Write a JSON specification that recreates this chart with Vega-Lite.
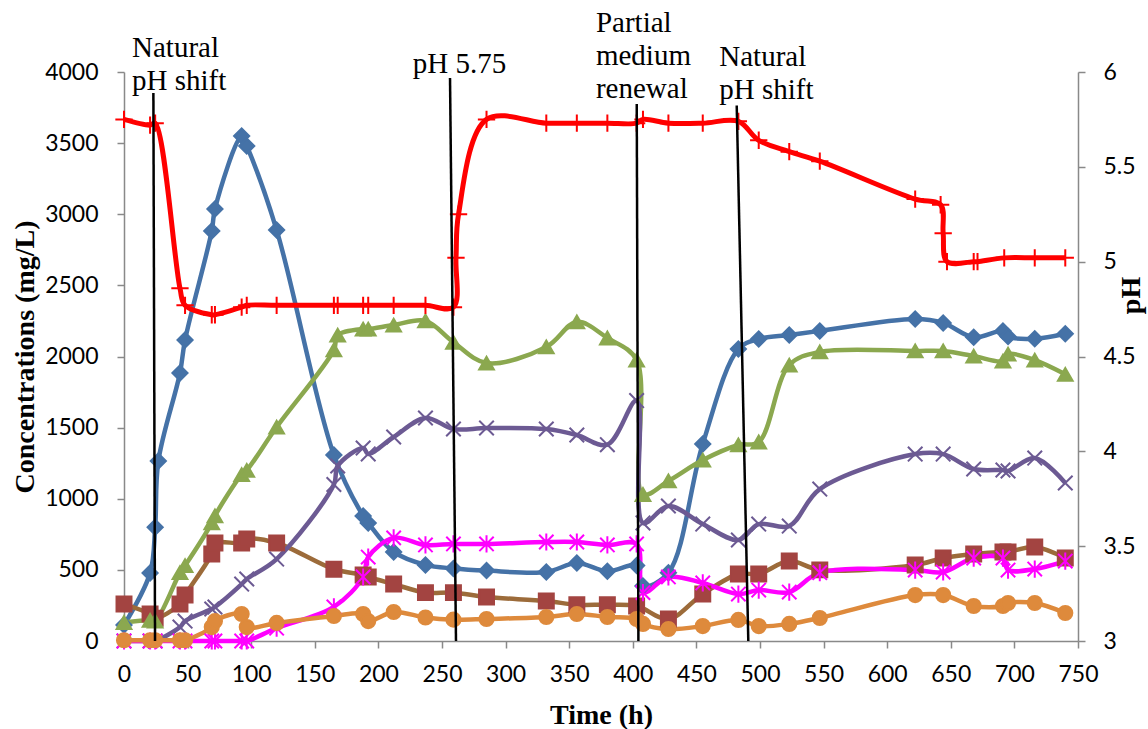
{
  "$schema": "https://vega.github.io/schema/vega-lite/v6.json",
  "width": 954,
  "height": 569,
  "autosize": "none",
  "padding": {"left": 124, "top": 72, "right": 70, "bottom": 88},
  "background": "white",
  "config": {
    "view": {"stroke": null},
    "axis": {
      "grid": false,
      "domainColor": "#898989",
      "tickColor": "#898989",
      "domainWidth": 1.5,
      "tickWidth": 1.5,
      "labelFont": "Lato",
      "labelFontSize": 23,
      "labelColor": "#000000",
      "labelOverlap": false,
      "titleFont": "Liberation Serif",
      "titleFontSize": 28,
      "titleFontWeight": "bold",
      "titleColor": "#000000"
    }
  },
  "datasets": {
    "conc": [
      {"s":"S1","t":0,"v":112},{"s":"S1","t":20.5,"v":478},{"s":"S1","t":24.5,"v":800},{"s":"S1","t":27,"v":1265},{"s":"S1","t":44,"v":1884},{"s":"S1","t":48,"v":2116},{"s":"S1","t":69,"v":2882},{"s":"S1","t":71.5,"v":3037},{"s":"S1","t":92.5,"v":3550},{"s":"S1","t":96.5,"v":3480},{"s":"S1","t":120,"v":2889},{"s":"S1","t":165,"v":1308},{"s":"S1","t":188,"v":879},{"s":"S1","t":192,"v":830},{"s":"S1","t":212,"v":626},{"s":"S1","t":237,"v":535},{"s":"S1","t":259,"v":510},{"s":"S1","t":285,"v":495},{"s":"S1","t":332,"v":485},{"s":"S1","t":356,"v":548},{"s":"S1","t":380,"v":490},{"s":"S1","t":403,"v":530},{"s":"S1","t":408,"v":387},{"s":"S1","t":428,"v":480},{"s":"S1","t":455,"v":1385},{"s":"S1","t":483,"v":2053},{"s":"S1","t":499,"v":2123},{"s":"S1","t":523,"v":2151},{"s":"S1","t":547,"v":2180},{"s":"S1","t":622,"v":2264},{"s":"S1","t":644,"v":2236},{"s":"S1","t":668,"v":2135},{"s":"S1","t":691,"v":2179},{"s":"S1","t":695,"v":2140},{"s":"S1","t":716,"v":2125},{"s":"S1","t":740,"v":2160},
      {"s":"S2","t":0,"v":260},{"s":"S2","t":20.5,"v":190},{"s":"S2","t":24.5,"v":160},{"s":"S2","t":44,"v":260},{"s":"S2","t":48,"v":323},{"s":"S2","t":69,"v":612},{"s":"S2","t":71.5,"v":689},{"s":"S2","t":92.5,"v":689},{"s":"S2","t":96.5,"v":717},{"s":"S2","t":120,"v":689},{"s":"S2","t":165,"v":505},{"s":"S2","t":188,"v":464},{"s":"S2","t":192,"v":450},{"s":"S2","t":212,"v":400},{"s":"S2","t":237,"v":340},{"s":"S2","t":259,"v":340},{"s":"S2","t":285,"v":309},{"s":"S2","t":332,"v":281},{"s":"S2","t":356,"v":255},{"s":"S2","t":380,"v":255},{"s":"S2","t":403,"v":246},{"s":"S2","t":428,"v":155},{"s":"S2","t":455,"v":330},{"s":"S2","t":483,"v":471},{"s":"S2","t":499,"v":471},{"s":"S2","t":523,"v":562},{"s":"S2","t":547,"v":500},{"s":"S2","t":622,"v":534},{"s":"S2","t":644,"v":583},{"s":"S2","t":668,"v":612},{"s":"S2","t":691,"v":626},{"s":"S2","t":695,"v":626},{"s":"S2","t":716,"v":661},{"s":"S2","t":740,"v":583},
      {"s":"S3","t":0,"v":130},{"s":"S3","t":20.5,"v":145},{"s":"S3","t":24.5,"v":140},{"s":"S3","t":44,"v":480},{"s":"S3","t":48,"v":530},{"s":"S3","t":69,"v":830},{"s":"S3","t":71.5,"v":880},{"s":"S3","t":92.5,"v":1170},{"s":"S3","t":96.5,"v":1200},{"s":"S3","t":120,"v":1504},{"s":"S3","t":165,"v":2046},{"s":"S3","t":168,"v":2150},{"s":"S3","t":188,"v":2193},{"s":"S3","t":192,"v":2193},{"s":"S3","t":212,"v":2221},{"s":"S3","t":237,"v":2250},{"s":"S3","t":259,"v":2100},{"s":"S3","t":285,"v":1954},{"s":"S3","t":332,"v":2067},{"s":"S3","t":356,"v":2243},{"s":"S3","t":380,"v":2130},{"s":"S3","t":403,"v":1975},{"s":"S3","t":408,"v":1030},{"s":"S3","t":428,"v":1125},{"s":"S3","t":455,"v":1272},{"s":"S3","t":483,"v":1378},{"s":"S3","t":499,"v":1399},{"s":"S3","t":523,"v":1940},{"s":"S3","t":547,"v":2032},{"s":"S3","t":622,"v":2039},{"s":"S3","t":644,"v":2039},{"s":"S3","t":668,"v":2003},{"s":"S3","t":691,"v":1968},{"s":"S3","t":695,"v":2017},{"s":"S3","t":716,"v":1975},{"s":"S3","t":740,"v":1875},
      {"s":"S4","t":0,"v":0},{"s":"S4","t":20.5,"v":0},{"s":"S4","t":24.5,"v":0},{"s":"S4","t":44,"v":98},{"s":"S4","t":48,"v":140},{"s":"S4","t":69,"v":225},{"s":"S4","t":71.5,"v":239},{"s":"S4","t":92.5,"v":400},{"s":"S4","t":96.5,"v":436},{"s":"S4","t":120,"v":576},{"s":"S4","t":165,"v":1100},{"s":"S4","t":168,"v":1230},{"s":"S4","t":188,"v":1357},{"s":"S4","t":192,"v":1315},{"s":"S4","t":212,"v":1434},{"s":"S4","t":237,"v":1568},{"s":"S4","t":259,"v":1490},{"s":"S4","t":285,"v":1497},{"s":"S4","t":332,"v":1490},{"s":"S4","t":356,"v":1448},{"s":"S4","t":380,"v":1380},{"s":"S4","t":403,"v":1690},{"s":"S4","t":408,"v":830},{"s":"S4","t":428,"v":949},{"s":"S4","t":455,"v":822},{"s":"S4","t":483,"v":710},{"s":"S4","t":499,"v":822},{"s":"S4","t":523,"v":808},{"s":"S4","t":547,"v":1068},{"s":"S4","t":622,"v":1314},{"s":"S4","t":644,"v":1314},{"s":"S4","t":668,"v":1209},{"s":"S4","t":691,"v":1202},{"s":"S4","t":695,"v":1195},{"s":"S4","t":716,"v":1286},{"s":"S4","t":740,"v":1111},
      {"s":"S5","t":0,"v":0},{"s":"S5","t":20.5,"v":0},{"s":"S5","t":24.5,"v":0},{"s":"S5","t":44,"v":0},{"s":"S5","t":48,"v":0},{"s":"S5","t":69,"v":0},{"s":"S5","t":71.5,"v":0},{"s":"S5","t":92.5,"v":0},{"s":"S5","t":96.5,"v":0},{"s":"S5","t":120,"v":90},{"s":"S5","t":165,"v":240},{"s":"S5","t":188,"v":450},{"s":"S5","t":192,"v":590},{"s":"S5","t":212,"v":725},{"s":"S5","t":237,"v":675},{"s":"S5","t":259,"v":682},{"s":"S5","t":285,"v":682},{"s":"S5","t":332,"v":696},{"s":"S5","t":356,"v":696},{"s":"S5","t":380,"v":675},{"s":"S5","t":403,"v":682},{"s":"S5","t":408,"v":340},{"s":"S5","t":428,"v":450},{"s":"S5","t":455,"v":408},{"s":"S5","t":483,"v":330},{"s":"S5","t":499,"v":358},{"s":"S5","t":523,"v":344},{"s":"S5","t":547,"v":480},{"s":"S5","t":622,"v":499},{"s":"S5","t":644,"v":485},{"s":"S5","t":668,"v":583},{"s":"S5","t":691,"v":583},{"s":"S5","t":695,"v":499},{"s":"S5","t":716,"v":506},{"s":"S5","t":740,"v":562},
      {"s":"S6","t":0,"v":5},{"s":"S6","t":20.5,"v":5},{"s":"S6","t":24.5,"v":5},{"s":"S6","t":44,"v":5},{"s":"S6","t":48,"v":5},{"s":"S6","t":69,"v":98},{"s":"S6","t":71.5,"v":140},{"s":"S6","t":92.5,"v":190},{"s":"S6","t":96.5,"v":98},{"s":"S6","t":120,"v":127},{"s":"S6","t":165,"v":176},{"s":"S6","t":188,"v":190},{"s":"S6","t":192,"v":140},{"s":"S6","t":212,"v":204},{"s":"S6","t":237,"v":165},{"s":"S6","t":259,"v":150},{"s":"S6","t":285,"v":155},{"s":"S6","t":332,"v":169},{"s":"S6","t":356,"v":190},{"s":"S6","t":380,"v":169},{"s":"S6","t":403,"v":155},{"s":"S6","t":408,"v":120},{"s":"S6","t":428,"v":84},{"s":"S6","t":455,"v":105},{"s":"S6","t":483,"v":148},{"s":"S6","t":499,"v":105},{"s":"S6","t":523,"v":120},{"s":"S6","t":547,"v":162},{"s":"S6","t":622,"v":323},{"s":"S6","t":644,"v":323},{"s":"S6","t":668,"v":246},{"s":"S6","t":691,"v":246},{"s":"S6","t":695,"v":267},{"s":"S6","t":716,"v":267},{"s":"S6","t":740,"v":197}
    ],
    "ph": [
      {"t":0,"ph":5.75},{"t":20.5,"ph":5.72},{"t":24.5,"ph":5.73},{"t":44,"ph":4.86},{"t":48,"ph":4.77},{"t":69,"ph":4.72},{"t":71.5,"ph":4.72},{"t":92.5,"ph":4.76},{"t":96.5,"ph":4.77},{"t":120,"ph":4.77},{"t":165,"ph":4.77},{"t":168,"ph":4.77},{"t":188,"ph":4.77},{"t":192,"ph":4.77},{"t":212,"ph":4.77},{"t":237,"ph":4.77},{"t":259,"ph":4.76},{"t":261,"ph":5.02},{"t":263,"ph":5.25},{"t":285,"ph":5.75},{"t":332,"ph":5.73},{"t":356,"ph":5.73},{"t":380,"ph":5.73},{"t":403,"ph":5.73},{"t":408,"ph":5.75},{"t":428,"ph":5.73},{"t":455,"ph":5.73},{"t":483,"ph":5.74},{"t":499,"ph":5.64},{"t":523,"ph":5.58},{"t":547,"ph":5.53},{"t":622,"ph":5.33},{"t":642,"ph":5.3},{"t":644,"ph":5.15},{"t":647,"ph":5.0},{"t":668,"ph":5.0},{"t":671,"ph":5.0},{"t":692,"ph":5.02},{"t":716,"ph":5.02},{"t":740,"ph":5.02}
    ],
    "marks": [
      {"t1":23.1,"c1":3852,"t2":24.4,"c2":0},
      {"t1":256.3,"c1":3958,"t2":261,"c2":0},
      {"t1":403.1,"c1":3775,"t2":404.4,"c2":0},
      {"t1":481.7,"c1":3765,"t2":490.8,"c2":0}
    ],
    "labels": [
      {"t":6.3,"c":4105,"label":"Natural\npH shift"},
      {"t":227,"c":3993,"label":"pH 5.75"},
      {"t":371,"c":4281,"label":"Partial\nmedium\nrenewal"},
      {"t":468,"c":4042,"label":"Natural\npH shift"}
    ]
  },
  "layer": [
    {
      "data": {"name": "conc"},
      "mark": {"type": "line", "strokeWidth": 4.5, "interpolate": "catmull-rom"},
      "encoding": {
        "x": {"field": "t", "type": "quantitative", "scale": {"domain": [0, 750], "nice": false, "zero": false},
          "axis": {"orient": "bottom", "values": [0,50,100,150,200,250,300,350,400,450,500,550,600,650,700,750], "format": "d", "title": "Time (h)", "tickSize": 7, "labelPadding": 15, "labelFlush": false, "titleX": 477, "titleY": 82, "titleBaseline": "alphabetic", "titleAlign": "center",
            "encode": {"ticks": {"update": {"y2": {"value": -7}}}}}},
        "y": {"field": "v", "type": "quantitative", "scale": {"domain": [0, 4000], "nice": false, "zero": false},
          "axis": {"orient": "left", "values": [0,500,1000,1500,2000,2500,3000,3500,4000], "format": "d", "title": "Concentrations (mg/L)", "tickSize": 7, "labelPadding": 19, "titleAngle": 270, "titleX": -91, "titleY": 284.5, "titleBaseline": "alphabetic", "titleAlign": "center"}},
        "color": {"field": "s", "type": "nominal", "legend": null,
          "scale": {"domain": ["S1","S2","S3","S4","S5","S6"], "range": ["#4572A7","#9C6B3A","#8BA84F","#6C5A93","#FF00FF","#DE8A3C"]}}
      }
    },
    {
      "data": {"name": "conc"},
      "mark": {"type": "point", "filled": true, "strokeWidth": 2, "opacity": 1},
      "encoding": {
        "x": {"field": "t", "type": "quantitative", "scale": {"domain": [0, 750], "nice": false, "zero": false}},
        "y": {"field": "v", "type": "quantitative", "scale": {"domain": [0, 4000], "nice": false, "zero": false}, "axis": null},
        "shape": {"field": "s", "type": "nominal", "legend": null,
          "scale": {"domain": ["S1","S2","S3","S4","S5","S6"], "range": ["diamond","square","triangle-up","M-1,-1L1,1M-1,1L1,-1","M-1,-1L1,1M-1,1L1,-1M0,-1.2L0,1.2","circle"]}},
        "fill": {"field": "s", "type": "nominal", "legend": null,
          "scale": {"domain": ["S1","S2","S3","S4","S5","S6"], "range": ["#4572A7","#A34441","#8BA84F","#6C5A93","#FF00FF","#DE8A3C"]}},
        "stroke": {"field": "s", "type": "nominal", "legend": null,
          "scale": {"domain": ["S1","S2","S3","S4","S5","S6"], "range": ["#4572A7","#A34441","#8BA84F","#6C5A93","#FF00FF","#DE8A3C"]}},
        "size": {"field": "s", "type": "nominal", "legend": null,
          "scale": {"domain": ["S1","S2","S3","S4","S5","S6"], "range": [230, 200, 270, 280, 300, 220]}}
      }
    },
    {
      "data": {"name": "ph"},
      "mark": {"type": "line", "strokeWidth": 5, "color": "#FF0000", "interpolate": "catmull-rom"},
      "encoding": {
        "x": {"field": "t", "type": "quantitative", "scale": {"domain": [0, 750], "nice": false, "zero": false}},
        "y": {"field": "ph", "type": "quantitative", "scale": {"domain": [3, 6], "nice": false, "zero": false},
          "axis": {"orient": "right", "values": [3,3.5,4,4.5,5,5.5,6], "labelExpr": "datum.value + ''", "title": "pH", "tickSize": 7, "labelPadding": 18, "titleAngle": 270, "titleX": 61, "titleY": 223, "titleBaseline": "alphabetic", "titleAlign": "center"}}
      }
    },
    {
      "data": {"name": "ph"},
      "mark": {"type": "point", "shape": "M-1,0L1,0M0,-1L0,1", "filled": false, "stroke": "#FF0000", "strokeWidth": 2, "size": 300, "opacity": 1},
      "encoding": {
        "x": {"field": "t", "type": "quantitative", "scale": {"domain": [0, 750], "nice": false, "zero": false}},
        "y": {"field": "ph", "type": "quantitative", "scale": {"domain": [3, 6], "nice": false, "zero": false}, "axis": null}
      }
    },
    {
      "data": {"name": "marks"},
      "mark": {"type": "rule", "color": "#000000", "strokeWidth": 2.5},
      "encoding": {
        "x": {"field": "t1", "type": "quantitative", "scale": {"domain": [0, 750], "nice": false, "zero": false}},
        "x2": {"field": "t2"},
        "y": {"field": "c1", "type": "quantitative", "scale": {"domain": [0, 4000], "nice": false, "zero": false}, "axis": null},
        "y2": {"field": "c2"}
      }
    },
    {
      "data": {"name": "labels"},
      "mark": {"type": "text", "font": "Liberation Serif", "fontSize": 29, "align": "left", "baseline": "alphabetic", "lineHeight": 33, "lineBreak": "\n", "color": "#000000"},
      "encoding": {
        "x": {"field": "t", "type": "quantitative", "scale": {"domain": [0, 750], "nice": false, "zero": false}},
        "y": {"field": "c", "type": "quantitative", "scale": {"domain": [0, 4000], "nice": false, "zero": false}, "axis": null},
        "text": {"field": "label"}
      }
    }
  ],
  "resolve": {"scale": {"y": "independent"}}
}
